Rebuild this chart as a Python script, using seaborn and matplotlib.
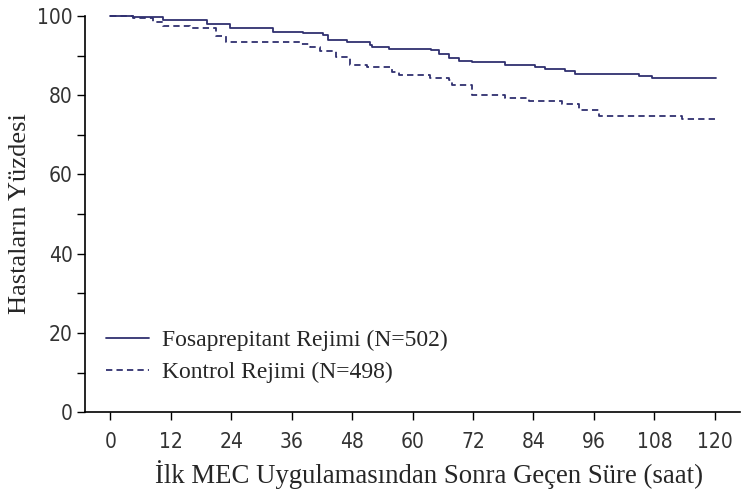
import numpy as np
import matplotlib.pyplot as plt
import pandas as pd
import seaborn as sns

# survival-style curves (hours, percent)
fosa_hours = [0, 4.5, 10.5, 19.2, 23.8, 32.3, 38.2, 42.2, 43.2, 46.9, 51.5, 52, 55.4,
              63.6, 65.3, 67.3, 69.3, 71.9, 78.4, 84.4, 86.3, 90.3, 92.3, 105, 107.5, 120.2]
fosa_pct = [100, 99.7, 99, 98, 97, 96, 95.6, 95.2, 94, 93.3, 92.7, 92.2, 91.7,
            91.3, 90.5, 89.3, 88.6, 88.3, 87.6, 87, 86.5, 86, 85.4, 84.8, 84.3, 84.3]

kont_hours = [0, 4.5, 8.5, 10.5, 15.8, 19.2, 21, 23, 37.6, 39.6, 41.6, 44.9, 47.5, 50.9,
              56, 57.4, 63.4, 67.3, 67.9, 71.9, 78.4, 83.2, 89.7, 93, 97, 113.5, 120.2]
kont_pct = [100, 99.4, 98.5, 97.5, 96.9, 96.9, 95, 93.5, 93, 92.2, 91.2, 89.7, 87.6, 87.2,
            85.9, 85.1, 84.3, 83.8, 82.6, 80, 79.2, 78.4, 77.8, 76.3, 74.7, 73.9, 73.9]

labels = ["Fosaprepitant Rejimi (N=502)", "Kontrol Rejimi (N=498)"]
xticks = list(range(0, 121, 12))

sns.set_style("ticks")
plt.rcParams['font.family'] = ['Liberation Serif', 'DejaVu Serif']

fig = plt.figure(figsize=(7.46, 4.96), dpi=100)
ax = fig.add_axes([0.114, 0.169, 0.878, 0.799])

navy = "#303070"
ax.plot(fosa_hours, fosa_pct, drawstyle="steps-post", color=navy, lw=1.3,
        label=labels[0], clip_on=False)
ax.plot(kont_hours, kont_pct, drawstyle="steps-post", color=navy, lw=1.3,
        ls=(0, (3.5, 2.3)), label=labels[1], clip_on=False)

ax.set_xlim(-5, 125)
ax.set_ylim(0, 100)
ax.set_xticks(xticks)
ax.set_yticks([0, 20, 40, 60, 80, 100])
ax.set_yticks([10, 30, 50, 70, 90], minor=True)
ax.tick_params(axis="both", which="both", direction="out", length=6, width=1, color="black")
for t in ax.get_xticklabels() + ax.get_yticklabels():
    t.set_family(['DejaVu Sans'])
    t.set_stretch('condensed')
    t.set_fontsize(15)
    t.set_color("#333333")
ax.tick_params(axis="x", pad=8)
ax.tick_params(axis="y", pad=3)

sns.despine(ax=ax)
for s in ["left", "bottom"]:
    ax.spines[s].set_linewidth(1.2)
    ax.spines[s].set_color("black")

ax.set_xlabel("İlk MEC Uygulamasından Sonra Geçen Süre (saat)", fontsize=19.3, labelpad=6)
ax.xaxis.set_label_coords(0.525, -0.12)
ax.set_ylabel("Hastaların Yüzdesi", fontsize=19, labelpad=4)

ax.legend(loc="lower left", bbox_to_anchor=(0.0, 0.02), frameon=False, fontsize=17,
          handlelength=1.8, handletextpad=0.55, labelspacing=0.45)

fig.savefig("out.png", dpi=100)
